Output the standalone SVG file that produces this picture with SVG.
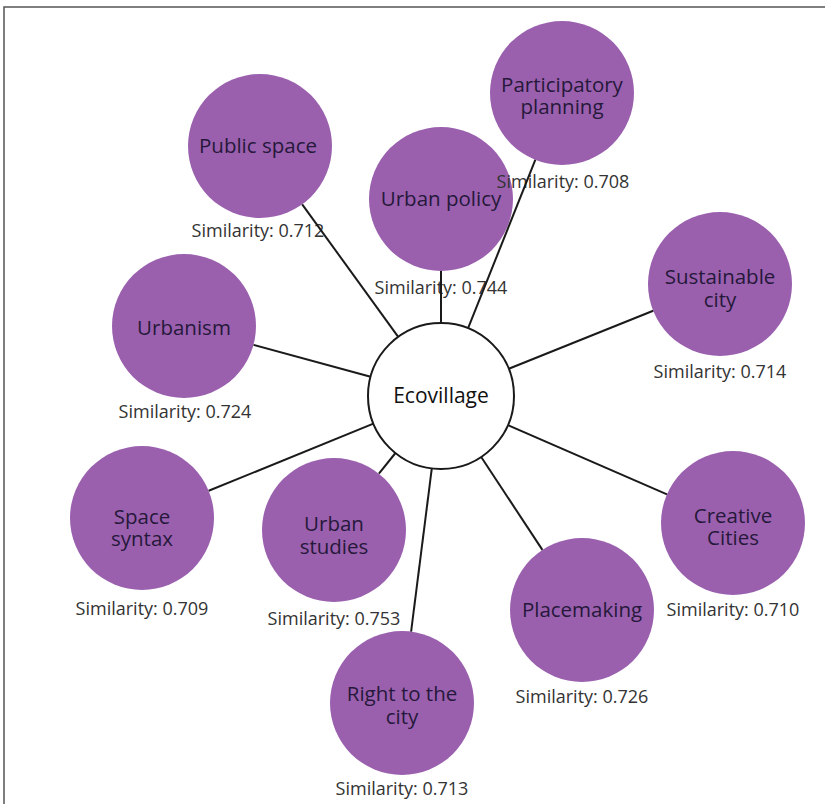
<svg xmlns="http://www.w3.org/2000/svg" width="825" height="804" viewBox="0 0 825 804">
<style>
.frame{stroke:#555;stroke-width:1.5;fill:none}
.edge{stroke:#1a1a1a;stroke-width:2;fill:none}
.node circle{fill:#9a60ae}
.center circle{fill:#fff;stroke:#1a1a1a;stroke-width:2}
.nt{font-family:"Open Sans","Noto Sans",sans-serif;font-size:20.5px;fill:#26183a;text-anchor:middle}
.lb{font-family:"Open Sans","Noto Sans",sans-serif;font-size:18px;fill:#333;text-anchor:middle}
</style>
<rect width="825" height="804" fill="#fff"/>
<path class="frame" d="M4,804 V7 H825"/>
<g id="public-space" class="node"><circle cx="260" cy="146" r="72"/><text class="nt" x="258" y="153">Public space</text><text class="lb" x="258" y="237">Similarity: 0.712</text></g>
<g id="urban-policy" class="node"><circle cx="441" cy="199" r="72"/><text class="nt" x="441" y="206">Urban policy</text><text class="lb" x="441" y="294">Similarity: 0.744</text></g>
<g id="participatory-planning" class="node"><circle cx="562" cy="93" r="72"/><text class="nt" x="562" y="92">Participatory<tspan x="562" dy="22">planning</tspan></text><text class="lb" x="563" y="188">Similarity: 0.708</text></g>
<g id="urbanism" class="node"><circle cx="184" cy="326" r="72"/><text class="nt" x="184" y="335">Urbanism</text><text class="lb" x="185" y="418">Similarity: 0.724</text></g>
<g id="sustainable-city" class="node"><circle cx="720" cy="284" r="72"/><text class="nt" x="720" y="284">Sustainable<tspan x="720" dy="23">city</tspan></text><text class="lb" x="720" y="378">Similarity: 0.714</text></g>
<g id="space-syntax" class="node"><circle cx="142" cy="518" r="72"/><text class="nt" x="142" y="524">Space<tspan x="142" dy="22">syntax</tspan></text><text class="lb" x="142" y="615">Similarity: 0.709</text></g>
<g id="urban-studies" class="node"><circle cx="334" cy="530" r="72"/><text class="nt" x="334" y="531">Urban<tspan x="334" dy="23">studies</tspan></text><text class="lb" x="334" y="625">Similarity: 0.753</text></g>
<g id="right-to-the-city" class="node"><circle cx="402" cy="703" r="72"/><text class="nt" x="402" y="701">Right to the<tspan x="402" dy="23">city</tspan></text><text class="lb" x="402" y="795">Similarity: 0.713</text></g>
<g id="placemaking" class="node"><circle cx="582" cy="610" r="72"/><text class="nt" x="582" y="617">Placemaking</text><text class="lb" x="582" y="703">Similarity: 0.726</text></g>
<g id="creative-cities" class="node"><circle cx="733" cy="523" r="72"/><text class="nt" x="733" y="523">Creative<tspan x="733" dy="22">Cities</tspan></text><text class="lb" x="733" y="616">Similarity: 0.710</text></g>
<g id="ecovillage" class="center"><circle cx="441" cy="396" r="73"/><text class="nt" x="441" y="403" style="fill:#111;font-size:21px">Ecovillage</text></g>
<g id="connectors">
<line class="edge" x1="398.2" y1="336.9" x2="302.2" y2="204.3"/>
<line class="edge" x1="468.1" y1="328.2" x2="535.3" y2="159.9"/>
<line class="edge" x1="441" y1="323" x2="441" y2="271"/>
<line class="edge" x1="370.6" y1="376.8" x2="253.5" y2="344.9"/>
<line class="edge" x1="508.8" y1="368.8" x2="653.2" y2="310.8"/>
<line class="edge" x1="373.4" y1="423.6" x2="208.7" y2="490.8"/>
<line class="edge" x1="395.5" y1="453" x2="378.9" y2="473.7"/>
<line class="edge" x1="431.8" y1="468.4" x2="411.1" y2="631.6"/>
<line class="edge" x1="481.2" y1="457" x2="542.4" y2="549.9"/>
<line class="edge" x1="507.9" y1="425.1" x2="667" y2="494.3"/>
</g>
</svg>
